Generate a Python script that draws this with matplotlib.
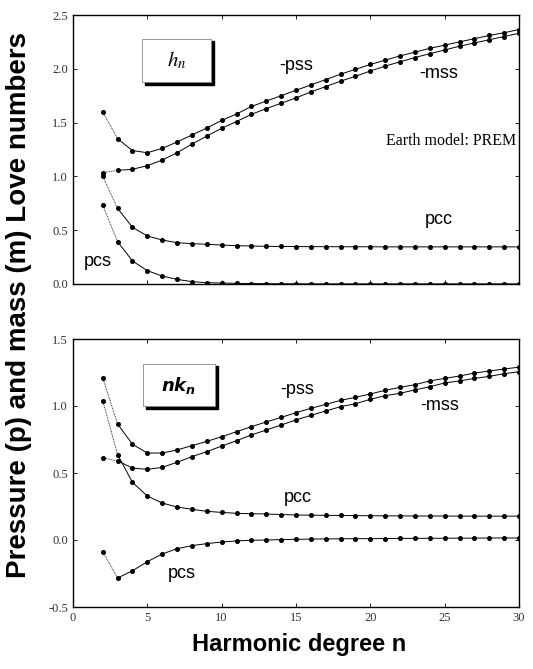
import numpy as np
import matplotlib.pyplot as plt
from matplotlib.patches import Rectangle

# Harmonic degrees
n = np.arange(2, 31)

# Top panel: h_n Love numbers (PREM)
h_pss = [1.60, 1.35, 1.24, 1.22, 1.26, 1.32, 1.385, 1.45, 1.52, 1.58, 1.65, 1.70,
         1.75, 1.80, 1.85, 1.90, 1.95, 1.995, 2.04, 2.08, 2.12, 2.155, 2.19, 2.22,
         2.25, 2.28, 2.31, 2.335, 2.365]
h_mss = [1.035, 1.056, 1.066, 1.10, 1.152, 1.22, 1.30, 1.375, 1.447, 1.51, 1.577, 1.63,
         1.68, 1.73, 1.785, 1.835, 1.885, 1.93, 1.98, 2.025, 2.065, 2.105, 2.14, 2.175,
         2.21, 2.24, 2.27, 2.30, 2.33]
h_pcc = [1.00, 0.703, 0.527, 0.446, 0.409, 0.384, 0.375, 0.369, 0.362, 0.356, 0.353, 0.350,
         0.349, 0.348, 0.347, 0.347, 0.346, 0.346, 0.346, 0.345, 0.345, 0.345, 0.345, 0.345,
         0.345, 0.345, 0.345, 0.345, 0.345]
h_pcs = [0.731, 0.393, 0.214, 0.124, 0.074, 0.043, 0.022, 0.012, 0.009, 0.006, 0.004, 0.003,
         0.002, 0.002, 0.001, 0.001, 0.001, 0.001, 0.001, 0.001, 0.001, 0.001, 0.001, 0.001,
         0.001, 0.001, 0.001, 0.001, 0.001]

# Bottom panel: n*k_n Love numbers
k_pss = [1.209, 0.866, 0.714, 0.649, 0.649, 0.672, 0.704, 0.736, 0.771, 0.808, 0.846, 0.881,
         0.915, 0.950, 0.983, 1.012, 1.042, 1.065, 1.09, 1.117, 1.139, 1.159, 1.187, 1.206,
         1.224, 1.246, 1.261, 1.276, 1.29]
k_mss = [0.612, 0.590, 0.537, 0.527, 0.542, 0.580, 0.622, 0.659, 0.701, 0.741, 0.784, 0.821,
         0.858, 0.896, 0.93, 0.963, 0.995, 1.017, 1.05, 1.077, 1.095, 1.12, 1.144, 1.172,
         1.187, 1.206, 1.221, 1.241, 1.256]
k_pcc = [1.04, 0.637, 0.43, 0.328, 0.276, 0.246, 0.229, 0.214, 0.206, 0.199, 0.196, 0.194,
         0.19, 0.187, 0.185, 0.184, 0.183, 0.182, 0.181, 0.180, 0.180, 0.179, 0.179, 0.179,
         0.178, 0.178, 0.178, 0.178, 0.178]
k_pcs = [-0.087, -0.284, -0.229, -0.162, -0.104, -0.065, -0.042, -0.027, -0.015, -0.007, -0.002, 0.0,
         0.003, 0.005, 0.007, 0.008, 0.009, 0.010, 0.010, 0.011, 0.012, 0.012, 0.013, 0.013,
         0.014, 0.014, 0.015, 0.015, 0.015]

top_labels = [('-pss', 296, 65), ('-mss', 439, 73), ('pcc', 439, 219), ('pcs', 98, 262)]
bot_labels = [('-pss', 297, 390), ('-mss', 440, 405), ('pcc', 298, 497), ('pcs', 182, 573)]

W, H = 533, 669
fig = plt.figure(figsize=(W / 100, H / 100), dpi=100)
ax1 = fig.add_axes([73 / W, 1 - 284 / H, 446 / W, 269 / H])
ax2 = fig.add_axes([73 / W, 1 - 607 / H, 446 / W, 268 / H])

line_kw = dict(color='black', lw=0.7, marker='o', ms=2.6, mfc='black', mec='black')


def draw(ax, series):
    for s in series:
        s = np.asarray(s)
        # first segment thinner / dotted as in the scan
        ax.plot(n[:2], s[:2], color='black', lw=0.6, ls=(0, (1, 1)))
        ax.plot(n[1:], s[1:], **line_kw)
        ax.plot(n[:1], s[:1], 'o', color='black', ms=2.6)


def style(ax, ylim, yticks):
    ax.set_xlim(0, 30)
    ax.set_ylim(*ylim)
    ax.set_xticks(range(0, 31, 5))
    ax.set_yticks(yticks)
    ax.set_yticklabels(['%.1f' % v for v in yticks], family='Liberation Serif',
                       fontsize=9, color='#333333')
    ax.tick_params(direction='in', top=True, right=True, length=3, width=0.6)
    for sp in ax.spines.values():
        sp.set_linewidth(1.0)


def fig_text(txt, x, y, **kw):
    fig.text(x / W, 1 - y / H, txt, ha='center', va='center', **kw)


def tag_box(x0, y0, x1, y1, txt, **kw):
    # box with drop shadow, in figure pixel coordinates
    fx0, fx1 = x0 / W, x1 / W
    fy0, fy1 = 1 - y1 / H, 1 - y0 / H
    fig.patches.append(Rectangle((fx0 + 2.5 / W, fy0 - 2.5 / H), fx1 - fx0, fy1 - fy0,
                                 transform=fig.transFigure, facecolor='black',
                                 edgecolor='black', zorder=5))
    fig.patches.append(Rectangle((fx0, fy0), fx1 - fx0, fy1 - fy0,
                                 transform=fig.transFigure, facecolor='white',
                                 edgecolor='#888888', lw=0.6, zorder=6))
    fig.text((fx0 + fx1) / 2, (fy0 + fy1) / 2, txt, ha='center', va='center',
             zorder=7, **kw)


draw(ax1, [h_pss, h_mss, h_pcc, h_pcs])
style(ax1, (0, 2.5), [0.0, 0.5, 1.0, 1.5, 2.0, 2.5])
ax1.set_xticklabels([])

draw(ax2, [k_pss, k_mss, k_pcc, k_pcs])
style(ax2, (-0.5, 1.5), [-0.5, 0.0, 0.5, 1.0, 1.5])
ax2.set_xticklabels([str(v) for v in range(0, 31, 5)], family='Liberation Serif',
                    fontsize=9, color='#333333')

for txt, x, y in top_labels + bot_labels:
    fig_text(txt, x, y, family='Liberation Sans', fontsize=13)

fig_text('Earth model: PREM', 451, 141, family='Liberation Serif', fontsize=11.5)

tag_box(142, 39, 211, 82, r'$\mathit{h_n}$', fontsize=15, math_fontfamily='stix')
tag_box(143, 364, 215, 406, r'$\mathbfit{nk_n}$', fontsize=13,
        math_fontfamily='dejavusans')

fig_text('Pressure (p) and mass (m) Love numbers', 19, 305, rotation=90,
         family='Liberation Sans', fontsize=20, fontweight='bold')
fig_text('Harmonic degree n', 299, 645, family='Liberation Sans', fontsize=17,
         fontweight='bold')

fig.savefig('out.png', dpi=100)
